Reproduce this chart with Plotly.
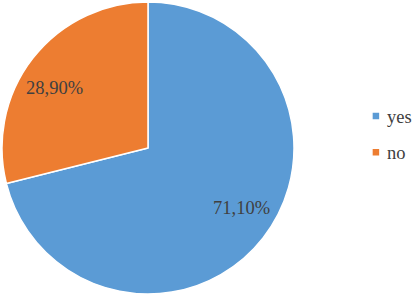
import math
import plotly.graph_objects as go

labels = ["yes", "no"]
values = [71.10, 28.90]
text_labels = ["71,10%", "28,90%"]
colors = ["#5B9BD5", "#ED7D31"]

W, H = 413, 295
FONT = "Liberation Serif, Times New Roman, serif"
dom_x = [2 / W, 294 / W]
dom_y = [1 - 294 / H, 1 - 2 / H]

fig = go.Figure(go.Pie(
    labels=labels,
    values=values,
    textinfo="none",
    sort=False,
    direction="clockwise",
    rotation=0,
    hoverinfo="label+percent",
    marker=dict(colors=colors, line=dict(color="white", width=1.5)),
    domain=dict(x=dom_x, y=dom_y),
))

# data labels placed along each slice's mid-angle (derived from the values)
cx = (dom_x[0] + dom_x[1]) / 2 * W
cy = (dom_y[0] + dom_y[1]) / 2 * H
radius = min((dom_x[1] - dom_x[0]) * W, (dom_y[1] - dom_y[0]) * H) / 2
total = sum(values)
cum = 0.0
for v, t in zip(values, text_labels):
    mid = (cum + v / 2) / total * 2 * math.pi - math.radians(5.5)
    cum += v
    r = 0.76 * radius
    fig.add_annotation(
        x=(cx + r * math.sin(mid)) / W,
        y=(cy + r * math.cos(mid)) / H,
        xref="paper", yref="paper", xanchor="center", yanchor="middle",
        text=t, showarrow=False,
        font=dict(family=FONT, size=18.5, color="#404040"),
    )

fig.update_layout(
    width=W, height=H,
    margin=dict(l=0, r=0, t=0, b=0, autoexpand=False),
    paper_bgcolor="white",
    plot_bgcolor="white",
    font=dict(family=FONT, color="#404040"),
    showlegend=True,
    legend=dict(
        x=0.840, y=0.559, xanchor="left", yanchor="middle",
        font=dict(family=FONT, size=18.5, color="#404040"),
        itemwidth=30, bgcolor="rgba(0,0,0,0)",
    ),
)

post = """
document.body.style.margin='0';
var tr = document.querySelectorAll('.legend .traces');
for (var i = 1; i < tr.length; i++) {
  var t = tr[i].getAttribute('transform') || '';
  var m = t.match(/translate\\(([-\\d.]+)[ ,]+([-\\d.]+)\\)/);
  if (m) { tr[i].setAttribute('transform', 'translate(' + m[1] + ',' + (parseFloat(m[2]) + 9 * i) + ')'); }
}
document.querySelectorAll('.legend .legendpie').forEach(function(p) {
  p.setAttribute('d', 'M4,4H-4V-4H4Z');
  p.setAttribute('transform', 'translate(29,0)');
});
"""

fig.write_html("out.html", config={"displayModeBar": False}, post_script=post)
